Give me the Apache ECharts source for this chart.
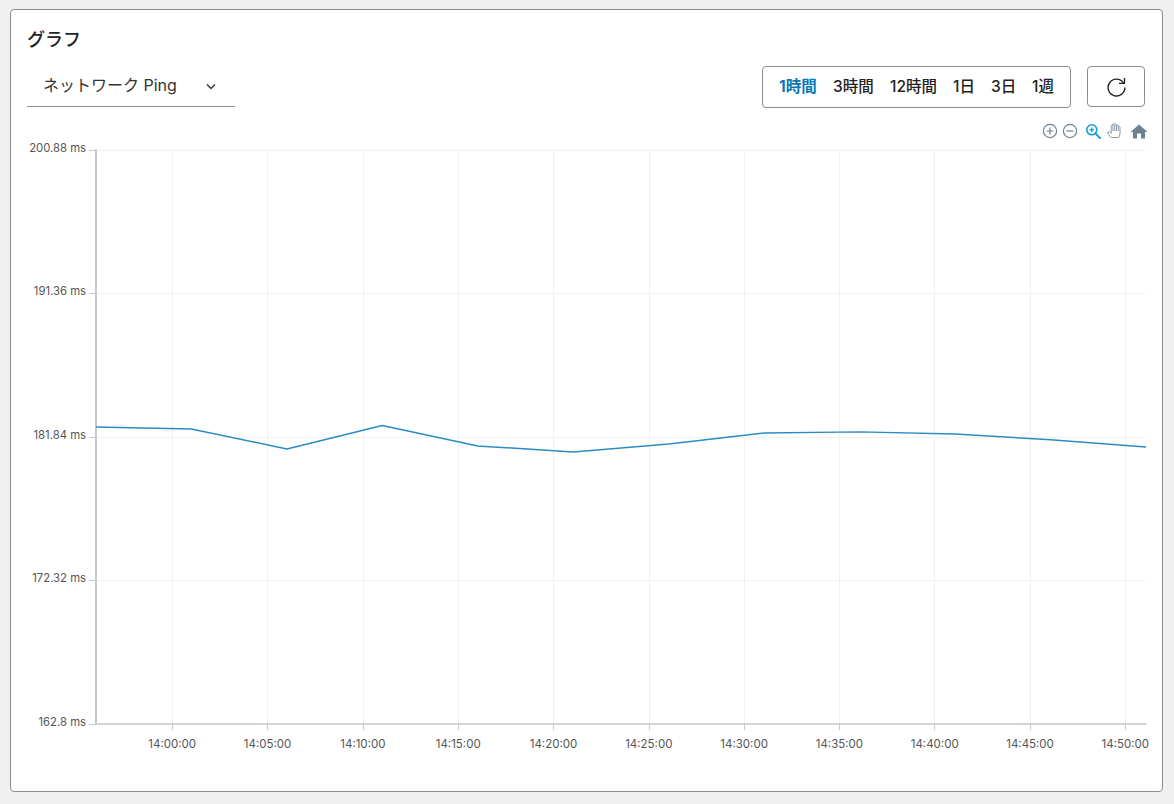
<!DOCTYPE html>
<html>
<head>
<meta charset="utf-8">
<title>グラフ</title>
<script src="https://cdn.jsdelivr.net/npm/echarts@6/dist/echarts.min.js"></script>
<style>
  html, body { margin: 0; padding: 0; width: 1174px; height: 804px; background: #f0f0f0; overflow: hidden; }
  body { font-family: Inter, "Noto Sans CJK JP", sans-serif; color: #1f2328; }
  .card { position: absolute; left: 10px; top: 9px; width: 1151px; height: 781px; background: #fff; border: 1px solid #8c8c8c; border-radius: 4px; }
  #chart { position: absolute; left: 0; top: 0; width: 1174px; height: 804px; }
  .title { position: absolute; left: 27px; top: 28px; font-size: 18px; font-weight: 500; line-height: 24px; }
  .select { position: absolute; left: 27px; top: 66px; width: 208px; height: 40px; border-bottom: 1px solid #8c8c8c; font-size: 16px; line-height: 38px; color: #333; }
  .select span { position: absolute; left: 16px; white-space: nowrap; }
  .select svg { position: absolute; left: 179px; top: 17px; }
  .range { position: absolute; left: 762px; top: 66px; width: 307px; height: 40px; border: 1px solid #8c8c8c; border-radius: 4px; font-size: 15.5px; line-height: 40px; color: #222; }
  .range span { position: absolute; top: 0; white-space: nowrap; font-weight: 500; }
  .range .on { color: #0a78b5; font-weight: 700; }
  .refresh { position: absolute; left: 1087px; top: 66px; width: 56px; height: 39px; border: 1px solid #8c8c8c; border-radius: 4px; }
  .refresh svg { position: absolute; left: 18px; top: 9px; }
  .tools { position: absolute; left: 1040px; top: 122px; width: 110px; height: 20px; }
  .tools svg { position: absolute; top: 0; }
</style>
</head>
<body>
<div class="card"></div>
<div id="chart"></div>
<div class="title">グラフ</div>
<div class="select"><span>ネットワーク Ping</span>
  <svg width="10" height="7" viewBox="0 0 10 7"><path d="M1 1.5 L5 5.5 L9 1.5" fill="none" stroke="#333" stroke-width="1.4"/></svg>
</div>
<div class="range">
  <span class="on" style="left:16px">1時間</span>
  <span style="left:70px">3時間</span>
  <span style="left:127px">12時間</span>
  <span style="left:190px">1日</span>
  <span style="left:228px">3日</span>
  <span style="left:269px">1週</span>
</div>
<div class="refresh">
  <svg width="21" height="21" viewBox="0 0 20 20"><path d="M16.6 6.5 A8 8 0 1 0 18 11" fill="none" stroke="#222" stroke-width="1.3"/><path d="M17.6 1.8 V7 H12.4" fill="none" stroke="#222" stroke-width="1.3"/></svg>
</div>
<div class="tools">
  <svg style="left:2px;top:1px" width="16" height="16" viewBox="0 0 16 16"><circle cx="8" cy="8" r="6.6" fill="none" stroke="#6e8192" stroke-width="1.2"/><path d="M4.5 8 H11.5 M8 4.5 V11.5" stroke="#6e8192" stroke-width="1.2"/></svg>
  <svg style="left:22px;top:1px" width="16" height="16" viewBox="0 0 16 16"><circle cx="8" cy="8" r="6.6" fill="none" stroke="#6e8192" stroke-width="1.2"/><path d="M4.5 8 H11.5" stroke="#6e8192" stroke-width="1.2"/></svg>
  <svg style="left:45px;top:1px" width="17" height="17" viewBox="0 0 17 17"><circle cx="6.8" cy="6.8" r="5" fill="none" stroke="#0f9ad8" stroke-width="1.6"/><path d="M4.4 6.8 H9.2 M6.8 4.4 V9.2" stroke="#0f9ad8" stroke-width="1.3"/><path d="M10.6 10.6 L15.6 15.6" stroke="#0f9ad8" stroke-width="2"/></svg>
  <svg style="left:66px;top:0" width="17" height="17" viewBox="0 0 17 17"><path d="M5 15.5 L1.5 11 Q1.5 9.5 3.5 10 L5.2 11.5 V3.5 Q6 2.5 6.8 3.5 V2 Q7.6 1 8.6 2 V2.5 Q9.4 1.5 10.4 2.5 V3.2 Q11.4 2.4 12.2 3.4 V4.4 Q13.2 4 14 5 V12 L12.8 15.5 Z" fill="#fff" stroke="#8d99a4" stroke-width="1"/><path d="M7 3 V9 M8.8 3 V9 M10.5 3 V9 M12.3 4 V9" stroke="#8d99a4" stroke-width="1"/></svg>
  <svg style="left:90px;top:1px" width="18" height="17" viewBox="0 0 18 17"><path d="M9 1.5 L17.5 9 H15 V15.5 H11 V10.5 H7 V15.5 H3 V9 H0.5 Z" fill="#6e8192"/></svg>
</div>
<script>
const timeLabels = ['13:56:00', '14:01:00', '14:06:01', '14:11:01', '14:16:02', '14:21:02', '14:26:03', '14:31:03', '14:36:04', '14:41:04', '14:46:05', '14:51:05'];
const pingValues = [182.51, 182.37, 181.05, 182.6, 181.25, 180.85, 181.38, 182.11, 182.18, 182.04, 181.65, 181.18];
const xTickLabels = ['14:00:00', '14:05:00', '14:10:00', '14:15:00', '14:20:00', '14:25:00', '14:30:00', '14:35:00', '14:40:00', '14:45:00', '14:50:00'];
const yMin = 162.8;
const yMax = 200.88;
const yStep = 9.52;

// seconds since midnight, the x axis is a plain value axis
function toSeconds(label) {
  let parts = label.split(':');
  return +parts[0] * 3600 + +parts[1] * 60 + +parts[2];
}

const xTicks = xTickLabels.map(toSeconds);

function formatSeconds(v) {
  return xTickLabels[xTicks.indexOf(v)];
}

const chart = echarts.init(document.getElementById('chart'), null, { renderer: 'svg' });
chart.setOption({
  animation: false,
  textStyle: { fontFamily: 'Inter, sans-serif' },
  grid: { left: 96, right: 28, top: 150, bottom: 80 },
  xAxis: {
    type: 'value',
    min: toSeconds(timeLabels[0]),
    max: toSeconds(timeLabels[timeLabels.length - 1]),
    axisLine: { lineStyle: { color: '#c8c8c8', width: 1.5 } },
    axisTick: { show: true, length: 6, customValues: xTicks, lineStyle: { color: '#c8c8c8' } },
    axisLabel: {
      color: '#555', fontSize: 11.5, margin: 14,
      customValues: xTicks,
      formatter: formatSeconds
    },
    splitLine: { show: true, lineStyle: { color: '#f1f1f1', width: 1 } }
  },
  yAxis: {
    type: 'value',
    min: yMin,
    max: yMax,
    interval: yStep,
    axisLine: { show: true, lineStyle: { color: '#c8c8c8', width: 2 } },
    axisTick: { show: true, length: 7, lineStyle: { color: '#c8c8c8' } },
    axisLabel: {
      color: '#555', fontSize: 11.3, margin: 10, verticalAlign: 'bottom', lineHeight: 5,
      formatter: v => parseFloat(v.toFixed(2)) + ' ms'
    },
    splitLine: { show: true, lineStyle: { color: '#f1f1f1', width: 1 } }
  },
  series: [{
    name: 'ネットワーク Ping',
    type: 'line',
    data: timeLabels.map((t, i) => [toSeconds(t), pingValues[i]]),
    showSymbol: false,
    lineStyle: { color: '#2b8cc4', width: 1.5 },
    itemStyle: { color: '#2b8cc4' }
  }]
});
</script>
</body>
</html>
